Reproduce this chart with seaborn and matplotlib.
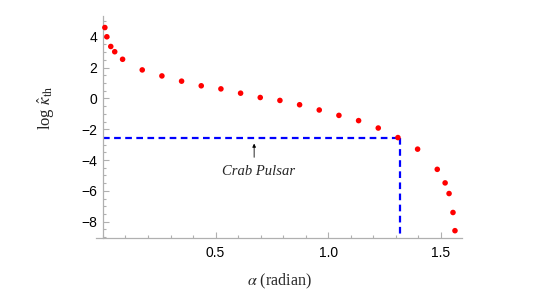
import numpy as np
import pandas as pd
import matplotlib
matplotlib.use('Agg')
import matplotlib.pyplot as plt
import seaborn as sns
from matplotlib.ticker import MultipleLocator

# alpha in radian and log kappa_th
alpha = [0.0087, 0.0175, 0.0349, 0.0524, 0.0873, 0.1745, 0.2618, 0.3491, 0.4363,
         0.5236, 0.6109, 0.6981, 0.7854, 0.8727, 0.9599, 1.0472, 1.1345, 1.2217,
         1.3090, 1.3963, 1.4835, 1.5184, 1.5359, 1.5533, 1.5621]
log_kappa = [4.6, 4.0, 3.37, 3.03, 2.54, 1.85, 1.46, 1.12, 0.82,
             0.62, 0.34, 0.06, -0.13, -0.41, -0.75, -1.10, -1.44, -1.92,
             -2.54, -3.29, -4.6, -5.48, -6.17, -7.4, -8.58]
crab_alpha = 1.316
crab_logk = -2.54

df = pd.DataFrame({'alpha': alpha, 'logk': log_kappa})

sns.set_style('white')
plt.rcParams['mathtext.fontset'] = 'stix'

fig = plt.figure(figsize=(5.45, 3.07), dpi=100)
ax = fig.add_axes([0.176, 0.225, 0.672, 0.723])

sns.scatterplot(data=df, x='alpha', y='logk', color='red', s=16,
                edgecolor='none', ax=ax, zorder=3)

ax.plot([0, crab_alpha], [crab_logk, crab_logk], color='blue', lw=1.6,
        dashes=(3, 2), zorder=2)
ax.plot([crab_alpha, crab_alpha], [crab_logk, -9.05], color='blue', lw=1.6,
        dashes=(3, 2), zorder=2)

ax.annotate('', xy=(0.671, -2.75), xytext=(0.671, -4.0),
            arrowprops=dict(arrowstyle='-|>', color='black', lw=0.6,
                            mutation_scale=5))
ax.text(0.69, -4.75, 'Crab Pulsar', family='Liberation Serif', style='italic',
        fontsize=10.5, ha='center', va='center')

ax.set_xlim(-0.031, 1.594)
ax.set_ylim(-9.05, 5.35)
ax.spines['left'].set_position(('data', 0))
ax.spines['right'].set_visible(False)
ax.spines['top'].set_visible(False)
for s in ['left', 'bottom']:
    ax.spines[s].set_color('#b0b0b0')
    ax.spines[s].set_linewidth(0.9)

ax.xaxis.set_major_locator(MultipleLocator(0.5))
ax.xaxis.set_minor_locator(MultipleLocator(0.1))
ax.yaxis.set_major_locator(MultipleLocator(2))
ax.yaxis.set_minor_locator(MultipleLocator(0.5))
ax.set_xticks([0.5, 1.0, 1.5])
ax.set_xticklabels(['0.5', '1.0', '1.5'])
ax.tick_params(which='both', direction='in', color='#b0b0b0', width=0.8,
               labelsize=10, labelcolor='black', bottom=True, left=True)
ax.tick_params(which='major', length=4)
ax.tick_params(which='minor', length=2.5)
ax.tick_params(axis='y', pad=4)
ax.tick_params(axis='x', pad=6)
for lab in ax.get_xticklabels() + ax.get_yticklabels():
    lab.set_family('Liberation Sans')

ax.set_xlabel(r'$\alpha$ (radian)', family='Liberation Serif', fontsize=11.5,
              labelpad=8)
ax.set_ylabel(r'log $\hat{\kappa}_{\rm th}$', family='Liberation Serif',
              fontsize=12)
ax.yaxis.set_label_coords(-0.105, 0.585)

fig.savefig('out.png', dpi=100)
